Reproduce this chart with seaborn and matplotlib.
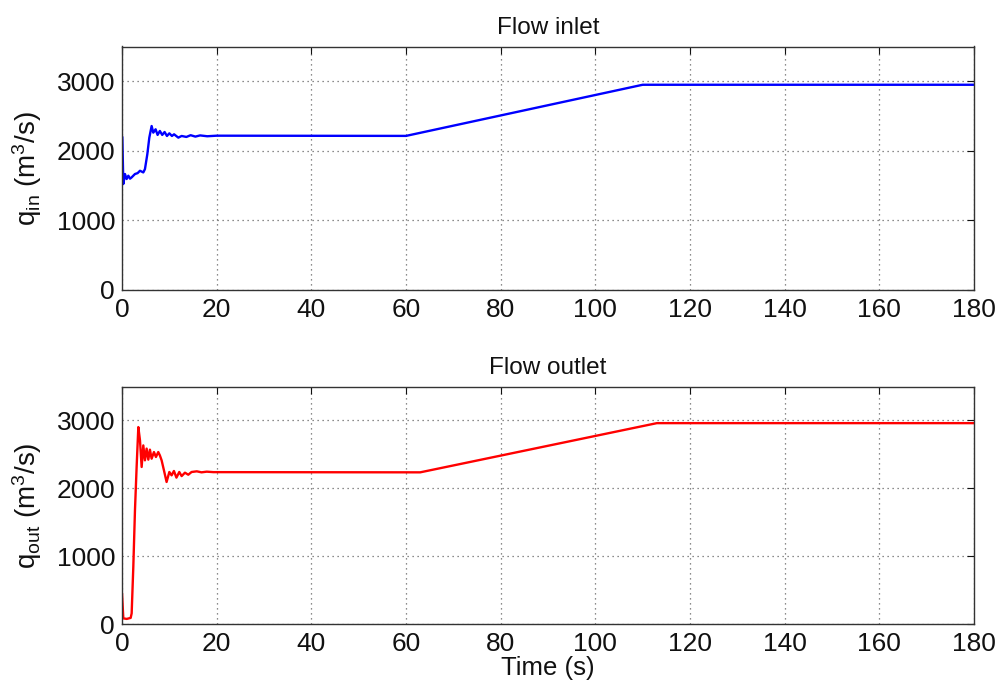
import numpy as np
import pandas as pd
import matplotlib
matplotlib.use("Agg")
import matplotlib.pyplot as plt
import seaborn as sns

# Flow at the inlet (time in s, flow in m^3/s)
t_in = [0.0, 0.07, 0.28, 0.63, 0.98, 1.34, 1.7, 2.04, 2.74, 3.3, 3.8, 4.5, 4.85,
        5.35, 5.77, 6.26, 6.61, 7.1, 7.52, 8.0, 8.5, 9.0, 9.5, 10.0, 10.55, 11.0,
        11.9, 12.6, 13.6, 14.5, 15.5, 16.5, 18.0, 20.0, 60.0, 110.0, 180.0]
q_in = [2200, 2200, 1524, 1667, 1595, 1643, 1600, 1619, 1667, 1680, 1714, 1690, 1738,
        1952, 2190, 2357, 2262, 2310, 2229, 2286, 2229, 2271, 2214, 2252, 2214, 2238,
        2190, 2214, 2200, 2225, 2205, 2222, 2210, 2218, 2215, 2950, 2950]

# Flow at the outlet
t_out = [0.0, 0.28, 1.0, 1.83, 2.04, 2.39, 2.74, 3.09, 3.45, 3.8, 4.15, 4.5, 4.85,
         5.2, 5.56, 5.9, 6.26, 6.75, 7.17, 7.66, 8.0, 8.37, 8.86, 9.42, 10.0, 10.48,
         10.97, 11.5, 12.1, 12.6, 13.3, 14.0, 14.7, 15.8, 16.8, 17.9, 19.3, 63.0,
         113.0, 180.0]
q_out = [451, 83, 75, 90, 157, 843, 1676, 2314, 2902, 2706, 2314, 2632, 2412,
         2585, 2422, 2569, 2436, 2534, 2461, 2534, 2485, 2412, 2265, 2093, 2240, 2191,
         2255, 2157, 2240, 2180, 2230, 2200, 2240, 2250, 2235, 2245, 2238, 2235,
         2960, 2960]

x_ticks = [0, 20, 40, 60, 80, 100, 120, 140, 160, 180]
y_ticks = [0, 1000, 2000, 3000]

sns.set_theme(style="white")
plt.rcParams["font.family"] = ["Liberation Sans", "DejaVu Sans"]
plt.rcParams["mathtext.fontset"] = "custom"
plt.rcParams["mathtext.rm"] = "Liberation Sans"
plt.rcParams["mathtext.it"] = "Liberation Sans"

fig = plt.figure(figsize=(10.06, 6.87), dpi=100)
W, H = 1006, 687
ax_top = fig.add_axes([122 / W, (H - 290) / H, 852 / W, 243.5 / H])
ax_bot = fig.add_axes([122 / W, (H - 624) / H, 852 / W, 237.5 / H])

panels = [
    (ax_top, t_in, q_in, "#0000ff", "Flow inlet", r"q$_{\rm in}$ (m$^3$/s)", ""),
    (ax_bot, t_out, q_out, "#ff0000", "Flow outlet", r"q$_{\rm out}$ (m$^3$/s)", "Time (s)"),
]

for ax, t, q, color, title, ylabel, xlabel in panels:
    df = pd.DataFrame({"t": t, "q": q})
    sns.lineplot(data=df, x="t", y="q", ax=ax, color=color, linewidth=1.7,
                 estimator=None, sort=False)
    ax.set_xlim(0, 180)
    ax.set_ylim(0, 3500)
    ax.set_xticks(x_ticks)
    ax.set_yticks(y_ticks)
    ax.grid(True, color="#666666", linestyle=(0, (1, 3)), linewidth=0.9)
    ax.tick_params(axis="both", direction="in", length=5, width=0.8,
                   top=True, right=True, labelsize=19, colors="#111111")
    ax.tick_params(axis="x", pad=6)
    ax.tick_params(axis="y", pad=5)
    for sp in ax.spines.values():
        sp.set_color("#333333")
        sp.set_linewidth(1.0)
    ax.set_title(title, fontsize=17.5, pad=9, color="#111111")
    ax.set_ylabel(ylabel, fontsize=20, labelpad=9, color="#111111")
    ax.set_xlabel(xlabel, fontsize=18.5, labelpad=0, color="#111111")

fig.savefig("out.png", dpi=100, facecolor="white")
